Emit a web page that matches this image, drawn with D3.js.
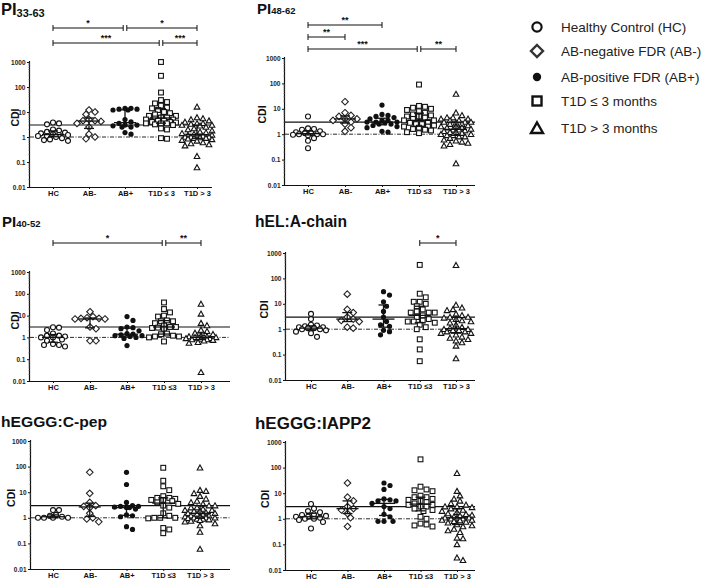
<!DOCTYPE html>
<html><head><meta charset="utf-8">
<script src="https://cdn.jsdelivr.net/npm/d3@7"></script>
<style>body{margin:0;background:#fff}svg{display:block}text{font-family:"Liberation Sans",Arial,sans-serif}</style>
</head><body><svg id="c" width="709" height="584"></svg>
<script>
// ---------------- DATA ----------------
const groups = ["HC", "AB-", "AB+", "T1D<=3", "T1D>3"];
const groupLabelsA = ["HC", "AB-", "AB+", "T1D \u2264 3", "T1D > 3"];
const groupLabelsB = ["HC", "AB-", "AB+", "T1D \u22643", "T1D > 3"];
const yTicks = [0.01, 0.1, 1, 10, 100, 1000];
const yTickLabels = ["0.01", "0.1", "1", "10", "100", "1000"];
const thresholdSolid = 3;
const thresholdDash = 1;
const legendLabels = ["Healthy Control (HC)", "AB-negative FDR (AB-)", "AB-positive FDR (AB+)", "T1D \u2264 3 months", "T1D > 3 months"];

const PI3363 = [
  [3.5, 3.8, 3.2, 2.0, 1.8, 1.6, 1.5, 1.4, 1.3, 1.2, 1.2, 1.1, 1.1, 1.0, 0.9, 0.8, 0.75, 0.7],
  [12, 10, 8, 5, 4.5, 4.5, 4.2, 3.5, 2.5, 1.3, 1.0, 0.85],
  [14, 14, 13, 13, 12, 12, 5, 4, 3.5, 3, 3, 2.8, 2.5, 2.5, 1.5, 1.3],
  [1000, 280, 60, 30, 25, 22, 18, 15, 14, 12, 10, 9, 8, 7, 7, 6, 6, 5.5, 5, 5, 4.5, 4.5, 4, 4, 3.8, 3.5, 3.5, 3.5, 3.2, 3, 2.2, 2, 0.9, 0.85],
  [16, 6, 5.5, 5, 4.5, 4, 3.5, 3.5, 3.3, 3, 3, 2.8, 2.5, 2.2, 2, 1.8, 1.6, 1.5, 1.4, 1.3, 1.2, 1.2, 1.1, 1.1, 1.0, 1.0, 1.0, 0.95, 0.9, 0.9, 0.85, 0.8, 0.75, 0.7, 0.6, 0.55, 0.5, 0.45, 0.17, 0.06]
];
const PI4862 = [
  [5, 1.7, 1.6, 1.5, 1.3, 1.2, 1.1, 1.1, 1.0, 1.0, 1.0, 0.95, 0.9, 0.7, 0.55, 0.28],
  [19, 7, 5.5, 5, 4, 4, 3.5, 3, 2.5, 1.8, 1.3],
  [14, 6, 5.5, 5, 4.5, 4, 3.5, 3.5, 3, 3, 3, 2.8, 2.5, 2.5, 2.2, 2, 1.8, 1.3, 1.2],
  [90, 13, 12, 11, 10, 9, 8, 7, 6, 5.5, 5, 5, 4.5, 4, 3.5, 3.5, 3, 3, 2.8, 2.5, 2.5, 2.2, 2, 2, 1.8, 1.6, 1.5, 1.4, 1.2, 1.1],
  [38, 7, 5.5, 4.5, 4.5, 4, 4, 3.5, 3.5, 3, 3, 3, 2.8, 2.5, 2.5, 2.2, 2, 2, 1.8, 1.8, 1.6, 1.5, 1.5, 1.4, 1.3, 1.2, 1.2, 1.1, 1.0, 1.0, 0.9, 0.9, 0.8, 0.8, 0.7, 0.6, 0.55, 0.5, 0.45, 0.4, 0.35, 0.07]
];
const PI4052 = [
  [2.9, 2.8, 2.2, 1.5, 1.2, 1.2, 1.1, 1.0, 1.0, 0.8, 0.7, 0.5, 0.45, 0.45, 0.38],
  [15, 9, 8, 7.5, 7.5, 7, 7, 3, 2.5, 0.7, 0.7],
  [9, 6, 3, 2.8, 2.5, 2, 1.5, 1.4, 1.3, 1.2, 1.2, 1.1, 1.0, 0.9, 0.42],
  [40, 20, 14, 10, 9, 6, 5.5, 5.5, 4.5, 3.5, 3, 3, 2.8, 2.7, 2.5, 1.5, 1.4, 1.2, 1.1, 1.1, 1.0, 0.65],
  [34, 12, 4.5, 3.5, 2.2, 1.9, 1.6, 1.4, 1.2, 1.1, 1.1, 1.0, 1.0, 1.0, 0.95, 0.9, 0.9, 0.85, 0.8, 0.8, 0.75, 0.7, 0.6, 0.55, 0.025]
];
const hELAchain = [
  [4, 2.5, 1.5, 1.4, 1.3, 1.2, 1.2, 1.1, 1.1, 1.0, 1.0, 0.9, 0.8, 0.7, 0.5],
  [24, 6, 4.5, 3, 2.5, 2.2, 2, 1.2, 1.1],
  [30, 22, 12, 8, 5, 3, 2, 1.5, 1.3, 0.9, 0.8, 0.6],
  [340, 25, 18, 12, 12, 10, 8, 6, 5, 4.5, 4.5, 4.5, 3.5, 3, 2.5, 2.2, 2, 2, 1.8, 1.5, 1.2, 1.0, 0.4, 0.16, 0.055],
  [330, 9, 7, 6, 5.5, 4, 3.5, 3, 3, 2.8, 2.5, 2.2, 2, 1.8, 1.5, 1.2, 1.1, 1.0, 1.0, 1.0, 0.9, 0.9, 0.8, 0.8, 0.7, 0.7, 0.6, 0.5, 0.45, 0.4, 0.35, 0.3, 0.22, 0.07]
];
const hEGGGCpep = [
  [2, 2, 1.3, 1.2, 1.1, 1.0, 1.0, 1.0, 1.0],
  [60, 9, 4, 3, 2.8, 2.5, 1.5, 1.0, 0.9, 0.7],
  [60, 20, 4, 3, 2.8, 2.8, 2.6, 2.5, 2.5, 2.2, 1.3, 1.2, 1.1, 0.45, 0.35],
  [90, 28, 17, 12, 7, 6, 6, 5.5, 5, 5, 4.5, 4, 3.5, 3, 2.5, 1.5, 1.2, 1.0, 1.0, 1.0, 0.95, 0.4, 0.35, 0.25],
  [90, 12, 11, 9, 7, 5.5, 4.5, 4, 3.5, 3, 3, 2.5, 2.5, 2.2, 2, 2, 1.8, 1.8, 1.6, 1.5, 1.5, 1.4, 1.3, 1.2, 1.2, 1.1, 1.1, 1.0, 1.0, 1.0, 0.95, 0.9, 0.9, 0.85, 0.8, 0.75, 0.7, 0.6, 0.5, 0.28, 0.06]
];
const hEGGGIAPP2 = [
  [3.8, 2.5, 2, 1.8, 1.5, 1.4, 1.3, 1.2, 1.2, 1.1, 1.0, 1.0, 0.9, 0.75, 0.42],
  [25, 7, 5, 3, 2.5, 2.2, 1.6, 1.1, 0.5],
  [25, 20, 14, 6, 5.5, 5, 5, 4, 3, 2.5, 1.5, 1.2, 0.8, 0.8, 0.8],
  [210, 18, 14, 13, 12, 8, 7, 7, 6, 5.5, 5, 4.5, 4, 3.5, 3.5, 3, 3, 2.5, 2.2, 2, 1.2, 1.0, 0.65, 0.6, 0.55, 0.5],
  [60, 12, 8, 6, 5, 4, 3.5, 3, 3, 2.8, 2.5, 2.2, 2, 1.8, 1.6, 1.5, 1.4, 1.3, 1.2, 1.1, 1.1, 1.0, 1.0, 1.0, 0.9, 0.9, 0.85, 0.8, 0.75, 0.7, 0.6, 0.55, 0.5, 0.4, 0.35, 0.3, 0.18, 0.17, 0.1, 0.03, 0.024]
];
// significance brackets: [fromGroup, toGroup, row, label]
const sigPI3363 = [[0, 2, 0, "*"], [2, 4, 0, "*"], [0, 3, 1, "***"], [3, 4, 1, "***"]];
const sigPI4862 = [[0, 2, 0, "**"], [0, 1, 1, "**"], [0, 3, 2, "***"], [3, 4, 2, "**"]];
const sigPI4052 = [[0, 3, 0, "*"], [3, 4, 0, "**"]];
const sigAchain = [[3, 4, 0, "*"]];

// ---------------- LAYOUT ----------------
const panels = [
  {data: PI3363, sig: sigPI3363, title: ["PI", "33-63"], titleSize: 16.5, subSize: 11, subShift: 1.5, tx: 1, ty: 15, tLen: null,
   ax: 30, x0: 53, x1: 197, right: 212, yTop: 62, yBot: 187, rows: [28, 43], labels: groupLabelsA, cdiX: 15},
  {data: PI4862, sig: sigPI4862, title: ["PI", "48-62"], titleSize: 15, subSize: 9.5, subShift: 0, tx: 257, ty: 14, tLen: null,
   ax: 285, x0: 308, x1: 456, right: 475, yTop: 58, yBot: 185, rows: [25, 37, 49], labels: groupLabelsB, cdiX: 262},
  {data: PI4052, sig: sigPI4052, title: ["PI", "40-52"], titleSize: 15, subSize: 9.5, subShift: 0, tx: 2, ty: 227, tLen: null,
   ax: 30, x0: 53, x1: 201, right: 230, yTop: 272, yBot: 381, rows: [243], labels: groupLabelsB, cdiX: 15},
  {data: hELAchain, sig: sigAchain, title: ["hEL:A-chain", ""], titleSize: 16, subSize: 11, subShift: 0, tx: 255, ty: 227, tLen: 92,
   ax: 286, x0: 311, x1: 456, right: 475, yTop: 253, yBot: 380, rows: [243], labels: groupLabelsB, cdiX: 264},
  {data: hEGGGCpep, sig: [], title: ["hEGGG:C-pep", ""], titleSize: 15.5, subSize: 11, subShift: 0, tx: 1, ty: 427, tLen: 106,
   ax: 31, x0: 53, x1: 200, right: 230, yTop: 441, yBot: 569, rows: [], labels: groupLabelsB, cdiX: 11},
  {data: hEGGGIAPP2, sig: [], title: ["hEGGG:IAPP2", ""], titleSize: 16, subSize: 11, subShift: 0, tx: 255, ty: 429, tLen: 116,
   ax: 286, x0: 311, x1: 457, right: 475, yTop: 442, yBot: 570, rows: [], labels: groupLabelsB, cdiX: 265}
];

const svg = d3.select("#c");
const FONT = '"Liberation Sans", Arial, sans-serif';

function drawMarker(g, type, x, y) {
  if (type === 0) {
    g.append("circle").attr("cx", x).attr("cy", y).attr("r", 2.5)
      .attr("fill", "#fff").attr("stroke", "#111").attr("stroke-width", 1.1);
  } else if (type === 1) {
    const d = 3.3;
    g.append("path").attr("d", `M${x},${y - d}L${x + d},${y}L${x},${y + d}L${x - d},${y}Z`)
      .attr("fill", "#fff").attr("stroke", "#222").attr("stroke-width", 1.1);
  } else if (type === 2) {
    g.append("circle").attr("cx", x).attr("cy", y).attr("r", 2.6).attr("fill", "#111");
  } else if (type === 3) {
    const h = 2.4;
    g.append("rect").attr("x", x - h).attr("y", y - h).attr("width", 2 * h).attr("height", 2 * h)
      .attr("fill", "#fff").attr("stroke", "#111").attr("stroke-width", 1.1);
  } else {
    const h = 2.8;
    g.append("path").attr("d", `M${x},${y - h}L${x + h},${y + h * 0.8}L${x - h},${y + h * 0.8}Z`)
      .attr("fill", "#fff").attr("stroke", "#111").attr("stroke-width", 1.1);
  }
}

// compact beeswarm: limited width, partial overlap allowed
function swarm(vals, y, cx, dia, maxOff) {
  const pts = vals.map(v => ({v, py: y(v)})).sort((a, b) => a.py - b.py);
  const placed = [];
  const step = dia * 0.6;
  pts.forEach(p => {
    let best = null, bestD = -1;
    for (let k = 0; k < 40; k++) {
      const off = k === 0 ? 0 : (k % 2 ? 1 : -1) * Math.ceil(k / 2) * step;
      if (Math.abs(off) > maxOff) break;
      const x = cx + off;
      const md = placed.length ? d3.min(placed, q => Math.hypot(q.x - x, q.py - p.py)) : 1e9;
      if (md >= dia) { best = x; bestD = md; break; }
      if (md > bestD + 0.3) { bestD = md; best = x; }
    }
    p.x = best; placed.push(p);
  });
  return placed;
}

panels.forEach(P => {
  const g = svg.append("g");
  const y = d3.scaleLog().domain([0.01, 1000]).range([P.yBot, P.yTop]);
  const x = d3.scalePoint().domain(groups).range([P.x0, P.x1]);

  // title
  const t = g.append("text").attr("x", P.tx).attr("y", P.ty).attr("font-weight", "bold")
    .attr("font-size", P.titleSize).attr("fill", "#111");
  t.append("tspan").text(P.title[0]);
  if (P.tLen) t.attr("textLength", P.tLen).attr("lengthAdjust", "spacingAndGlyphs");
  if (P.title[1]) t.append("tspan").attr("font-size", P.subSize).attr("dy", P.subShift).text(P.title[1]);

  // y axis
  const yAxis = d3.axisLeft(y).tickValues(yTicks).tickFormat((d, i) => yTickLabels[i]).tickSize(3).tickPadding(1.5);
  const ya = g.append("g").attr("transform", `translate(${P.ax},0)`).call(yAxis);
  ya.select(".domain").attr("stroke", "#111").attr("stroke-width", 1.2).attr("d", `M-0.5,${P.yBot}V${P.yTop - 1}`);
  ya.selectAll(".tick line").attr("stroke", "#111").attr("stroke-width", 1);
  ya.selectAll(".tick text").attr("font-family", FONT).attr("font-size", 6.5).attr("font-weight", "bold").attr("fill", "#222");
  const minor = [];
  for (let e = -2; e < 3; e++) for (let m = 2; m < 10; m++) minor.push(m * Math.pow(10, e));
  g.selectAll(null).data(minor).enter().append("line")
    .attr("x1", P.ax - 1.8).attr("x2", P.ax).attr("y1", d => y(d)).attr("y2", d => y(d))
    .attr("stroke", "#666").attr("stroke-width", 0.5);

  // x axis
  const xa = g.append("g").attr("transform", `translate(0,${P.yBot})`)
    .call(d3.axisBottom(x).tickSize(2).tickPadding(2).tickFormat((d, i) => P.labels[i]));
  xa.select(".domain").attr("stroke", "#111").attr("stroke-width", 1.2).attr("d", `M${P.ax},0.5H${P.right}`);
  xa.selectAll(".tick line").attr("stroke", "#111");
  xa.selectAll(".tick text").attr("font-family", FONT).attr("font-size", 7.5).attr("font-weight", "bold").attr("fill", "#111");

  // CDI label
  g.append("text").attr("transform", `translate(${P.cdiX},${y(6)}) rotate(-90)`).attr("text-anchor", "middle")
    .attr("dy", "0.35em").attr("font-size", 10.5).attr("font-weight", "bold").attr("fill", "#111").text("CDI");

  // threshold lines
  g.append("line").attr("x1", P.ax).attr("x2", P.right).attr("y1", y(thresholdSolid)).attr("y2", y(thresholdSolid))
    .attr("stroke", "#111").attr("stroke-width", 1.1);
  g.append("line").attr("x1", P.ax).attr("x2", P.right).attr("y1", y(thresholdDash)).attr("y2", y(thresholdDash))
    .attr("stroke", "#111").attr("stroke-width", 0.9).attr("stroke-dasharray", "4,1.5,1,1.5");

  // points
  P.data.forEach((vals, gi) => {
    const cx = x(groups[gi]);
    const pts = swarm(vals, y, cx, 5.0, 15);
    pts.forEach(p => drawMarker(g, gi, p.x, p.py));
  });

  // median + IQR
  P.data.forEach((vals, gi) => {
    const cx = x(groups[gi]);
    const s = vals.slice().sort(d3.ascending);
    const med = d3.quantile(s, 0.5), q1 = d3.quantile(s, 0.25), q3 = d3.quantile(s, 0.75);
    const ln = (a, b, c, d) => g.append("line").attr("x1", a).attr("y1", b).attr("x2", c).attr("y2", d)
      .attr("stroke", "#111").attr("stroke-width", 1.3);
    ln(cx - 11, y(med), cx + 11, y(med));
    ln(cx, y(q1), cx, y(q3));
    ln(cx - 5, y(q1), cx + 5, y(q1));
    ln(cx - 5, y(q3), cx + 5, y(q3));
  });

  // significance brackets
  P.sig.forEach(([a, b, r, lab]) => {
    const yy = P.rows[r];
    let xa0 = x(groups[a]), xb0 = x(groups[b]);
    if (P.sig.some(s => s[2] === r && s[1] === a)) xa0 += 1.8;
    if (P.sig.some(s => s[2] === r && s[0] === b)) xb0 -= 1.8;
    g.append("line").attr("x1", xa0).attr("x2", xb0).attr("y1", yy).attr("y2", yy).attr("stroke", "#111").attr("stroke-width", 1);
    [xa0, xb0].forEach(xx => g.append("line").attr("x1", xx).attr("x2", xx).attr("y1", yy - 3).attr("y2", yy + 3)
      .attr("stroke", "#111").attr("stroke-width", 1));
    g.append("text").attr("x", (xa0 + xb0) / 2).attr("y", yy - 2).attr("text-anchor", "middle")
      .attr("font-size", 9).attr("font-weight", "bold").attr("fill", "#111").text(lab);
  });
});

// legend
const legY = [27, 51, 77, 101, 128];
const lg = svg.append("g");
legendLabels.forEach((lab, i) => {
  const ly = legY[i];
  if (i === 0) lg.append("circle").attr("cx", 537).attr("cy", ly).attr("r", 4.6).attr("fill", "#fff").attr("stroke", "#111").attr("stroke-width", 2.2);
  else if (i === 1) lg.append("path").attr("d", `M537,${ly - 6}L543,${ly}L537,${ly + 6}L531,${ly}Z`).attr("fill", "#fff").attr("stroke", "#333").attr("stroke-width", 2.4);
  else if (i === 2) lg.append("circle").attr("cx", 537).attr("cy", ly).attr("r", 4.2).attr("fill", "#111");
  else if (i === 3) lg.append("rect").attr("x", 532.5).attr("y", ly - 4.5).attr("width", 9).attr("height", 9).attr("fill", "#fff").attr("stroke", "#111").attr("stroke-width", 2.4);
  else lg.append("path").attr("d", `M537,${ly - 5.5}L543,${ly + 5}L531,${ly + 5}Z`).attr("fill", "#fff").attr("stroke", "#111").attr("stroke-width", 2.4);
  lg.append("text").attr("x", 561).attr("y", ly).attr("dy", "0.35em").attr("font-size", 13.5).attr("fill", "#222").text(lab);
});
</script></body></html>
